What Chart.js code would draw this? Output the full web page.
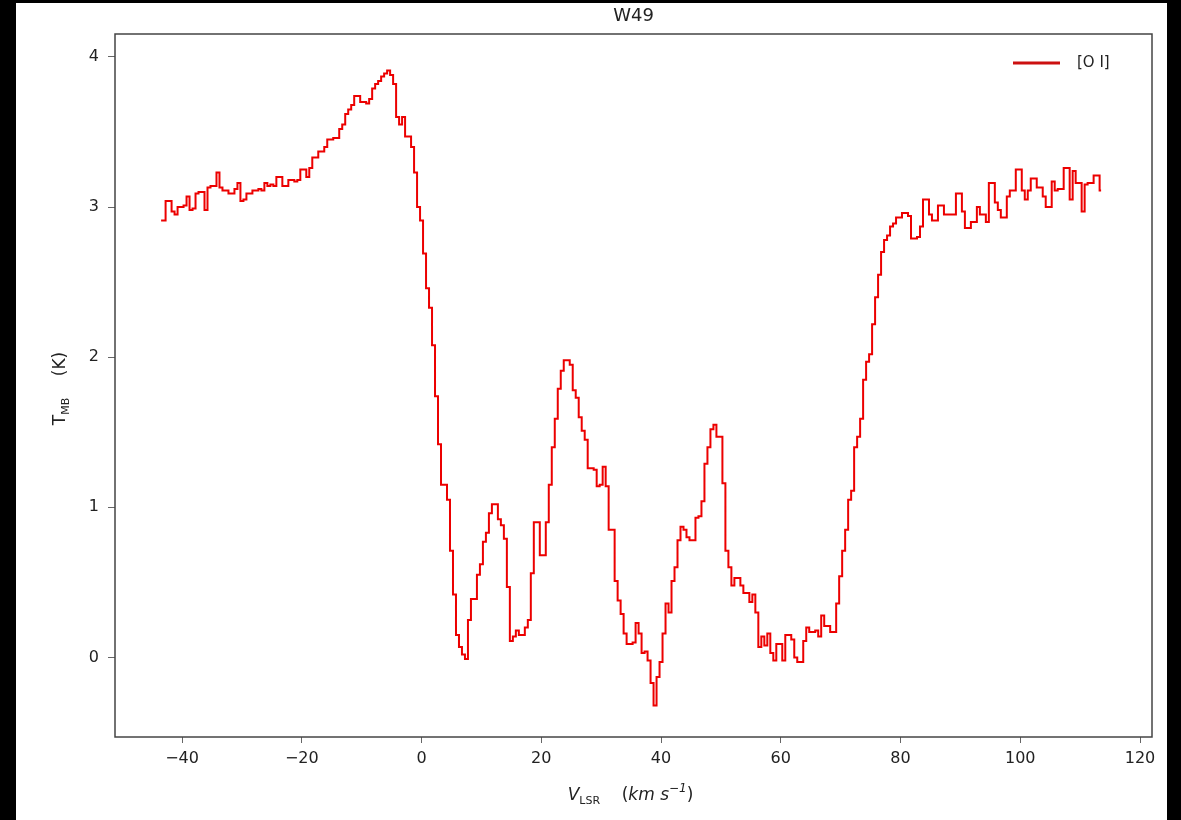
<!DOCTYPE html>
<html>
<head>
<meta charset="utf-8">
<title>W49 [O I]</title>
<script src="https://cdn.jsdelivr.net/npm/chart.js@4/dist/chart.umd.min.js"></script>
<style>
  html, body { margin: 0; padding: 0; background: #000; }
  #wrap { position: absolute; left: 16px; top: 3px; width: 1151px; height: 817px; background: #fff; }
</style>
</head>
<body>
<div id="wrap"><canvas id="spec" width="1151" height="817"></canvas></div>
<script>
// W49 [O I] spectrum, main-beam temperature per 0.5 km/s channel
const titleText = "W49";
const lineName = "[O I]";
const vStart = -43.5;   // km/s, first channel centre
const vStep = 0.5;      // km/s, channel width

const tmb = [
  // -43.5 .. -34.0
  2.91, 2.91, 3.04, 3.04, 2.97, 2.95, 3.00, 3.00, 3.01, 3.07, 2.98, 2.99, 3.09, 3.10, 3.10, 2.98, 3.13, 3.14, 3.14, 3.23,
  // -33.5 .. -24.0
  3.13, 3.11, 3.11, 3.09, 3.09, 3.12, 3.16, 3.04, 3.05, 3.09, 3.09, 3.11, 3.11, 3.12, 3.11, 3.16, 3.14, 3.15, 3.14, 3.20,
  // -23.5 .. -14.0
  3.20, 3.14, 3.14, 3.18, 3.18, 3.17, 3.18, 3.25, 3.25, 3.20, 3.26, 3.33, 3.33, 3.37, 3.37, 3.40, 3.45, 3.45, 3.46, 3.46,
  // -13.5 .. -4.0
  3.52, 3.55, 3.62, 3.65, 3.68, 3.74, 3.74, 3.70, 3.70, 3.69, 3.72, 3.79, 3.82, 3.84, 3.87, 3.89, 3.91, 3.88, 3.82, 3.60,
  // -3.5 .. 6.0
  3.55, 3.60, 3.47, 3.47, 3.40, 3.23, 3.00, 2.91, 2.69, 2.46, 2.33, 2.08, 1.74, 1.42, 1.15, 1.15, 1.05, 0.71, 0.42, 0.15,
  // 6.5 .. 16.0
  0.07, 0.02, -0.01, 0.25, 0.39, 0.39, 0.55, 0.62, 0.77, 0.83, 0.96, 1.02, 1.02, 0.92, 0.88, 0.79, 0.47, 0.11, 0.14, 0.18,
  // 16.5 .. 26.0
  0.15, 0.15, 0.20, 0.25, 0.56, 0.90, 0.90, 0.68, 0.68, 0.90, 1.15, 1.40, 1.59, 1.79, 1.91, 1.98, 1.98, 1.95, 1.78, 1.73,
  // 26.5 .. 36.0
  1.60, 1.51, 1.45, 1.26, 1.26, 1.25, 1.14, 1.15, 1.27, 1.14, 0.85, 0.85, 0.51, 0.38, 0.29, 0.16, 0.09, 0.09, 0.10, 0.23,
  // 36.5 .. 46.0
  0.16, 0.03, 0.04, -0.02, -0.17, -0.32, -0.13, -0.03, 0.16, 0.36, 0.30, 0.51, 0.60, 0.78, 0.87, 0.85, 0.80, 0.78, 0.78, 0.93,
  // 46.5 .. 56.0
  0.94, 1.04, 1.29, 1.40, 1.52, 1.55, 1.47, 1.47, 1.16, 0.71, 0.60, 0.48, 0.53, 0.53, 0.48, 0.43, 0.43, 0.37, 0.42, 0.30,
  // 56.5 .. 66.0
  0.07, 0.14, 0.08, 0.16, 0.03, -0.02, 0.09, 0.09, -0.02, 0.15, 0.15, 0.12, 0.00, -0.03, -0.03, 0.11, 0.20, 0.17, 0.17, 0.18,
  // 66.5 .. 76.0
  0.14, 0.28, 0.21, 0.21, 0.17, 0.17, 0.36, 0.54, 0.71, 0.85, 1.05, 1.11, 1.40, 1.47, 1.59, 1.85, 1.97, 2.02, 2.22, 2.40,
  // 76.5 .. 86.0
  2.55, 2.70, 2.78, 2.81, 2.87, 2.89, 2.93, 2.93, 2.96, 2.96, 2.94, 2.79, 2.79, 2.80, 2.87, 3.05, 3.05, 2.95, 2.91, 2.91,
  // 86.5 .. 96.0
  3.01, 3.01, 2.95, 2.95, 2.95, 2.95, 3.09, 3.09, 2.97, 2.86, 2.86, 2.90, 2.90, 3.00, 2.95, 2.95, 2.90, 3.16, 3.16, 3.03,
  // 96.5 .. 106.0
  2.98, 2.93, 2.93, 3.07, 3.11, 3.11, 3.25, 3.25, 3.11, 3.05, 3.11, 3.19, 3.19, 3.13, 3.13, 3.07, 3.00, 3.00, 3.17, 3.11,
  // 106.5 .. 113.5
  3.12, 3.12, 3.26, 3.26, 3.05, 3.24, 3.16, 3.16, 2.97, 3.15, 3.16, 3.16, 3.21, 3.21, 3.11
];

const lineColor = "#ec0000";
const textColor = "#222222";
const frameColor = "#444444";
const fontFamily = '"DejaVu Sans", sans-serif';

const points = tmb.map((t, i) => ({ x: vStart + i * vStep, y: t }));

// matplotlib-style minus sign on tick labels
const minusFmt = v => String(v).replace("-", "\u2212");

// draws a run of text pieces centred on x; each piece may be raised or lowered
function drawRuns(ctx, runs, x, y) {
  let total = 0;
  runs.forEach(r => { ctx.font = r.font; total += ctx.measureText(r.text).width; });
  let cx = x - total / 2;
  runs.forEach(r => {
    ctx.font = r.font;
    ctx.fillText(r.text, cx, y + (r.dy || 0));
    cx += ctx.measureText(r.text).width;
  });
}

const decorations = {
  id: "decorations",
  afterDraw(chart) {
    const { ctx, chartArea: a } = chart;
    ctx.save();

    // box around the axes
    ctx.strokeStyle = frameColor;
    ctx.lineWidth = 1.5;
    ctx.strokeRect(a.left, a.top, a.right - a.left, a.bottom - a.top);

    ctx.fillStyle = textColor;
    ctx.textBaseline = "alphabetic";
    ctx.textAlign = "left";

    // title
    drawRuns(ctx, [{ text: titleText, font: "18px " + fontFamily }], (a.left + a.right) / 2, 18);

    // legend, top right inside the axes
    ctx.strokeStyle = "#cc1010";
    ctx.lineWidth = 3;
    ctx.beginPath();
    ctx.moveTo(a.right - 139, a.top + 29);
    ctx.lineTo(a.right - 92, a.top + 29);
    ctx.stroke();
    ctx.font = "15px " + fontFamily;
    ctx.textBaseline = "middle";
    ctx.fillText(lineName, a.right - 75, a.top + 29);
    ctx.textBaseline = "alphabetic";

    // x axis title: V_LSR (km s^-1)
    const it = "italic 17px " + fontFamily;
    drawRuns(ctx, [
      { text: "V", font: it },
      { text: "LSR", font: "11px " + fontFamily, dy: 4 },
      { text: "    (", font: "17px " + fontFamily },
      { text: "km s", font: it },
      { text: "\u22121", font: "italic 12px " + fontFamily, dy: -8 },
      { text: ")", font: "17px " + fontFamily }
    ], (a.left + a.right) / 2 - 3, 797);

    // y axis title: T_MB (K), rotated
    ctx.translate(49, (a.top + a.bottom) / 2 + 3);
    ctx.rotate(-Math.PI / 2);
    drawRuns(ctx, [
      { text: "T", font: "17px " + fontFamily },
      { text: "MB", font: "11px " + fontFamily, dy: 4 },
      { text: "    (K)", font: "17px " + fontFamily }
    ], 0, 0);

    ctx.restore();
  }
};

const tickFont = { family: fontFamily, size: 16 };

new Chart(document.getElementById("spec"), {
  type: "line",
  data: {
    datasets: [{
      label: lineName,
      data: points,
      borderColor: lineColor,
      borderWidth: 2,
      stepped: "middle",
      pointRadius: 0,
      fill: false
    }]
  },
  options: {
    responsive: false,
    animation: false,
    layout: { padding: { left: 0, top: 31, right: 15, bottom: 18 } },
    plugins: {
      legend: { display: false },
      title: { display: false },
      tooltip: { enabled: false }
    },
    scales: {
      x: {
        type: "linear",
        min: -51.2,
        max: 122,
        afterFit: s => { s.height = 65; },
        grid: { drawOnChartArea: false, drawTicks: true, tickLength: 6, tickColor: "#666" },
        border: { display: false },
        ticks: {
          stepSize: 20,
          includeBounds: false,
          padding: 6,
          color: textColor,
          font: tickFont,
          callback: minusFmt
        }
      },
      y: {
        min: -0.53,
        max: 4.153,
        afterFit: s => { s.width = 99; },
        grid: { drawOnChartArea: false, drawTicks: true, tickLength: 7, tickColor: "#666" },
        border: { display: false },
        ticks: {
          stepSize: 1,
          includeBounds: false,
          padding: 9,
          color: textColor,
          font: tickFont,
          callback: minusFmt
        }
      }
    }
  },
  plugins: [decorations]
});
</script>
</body>
</html>
